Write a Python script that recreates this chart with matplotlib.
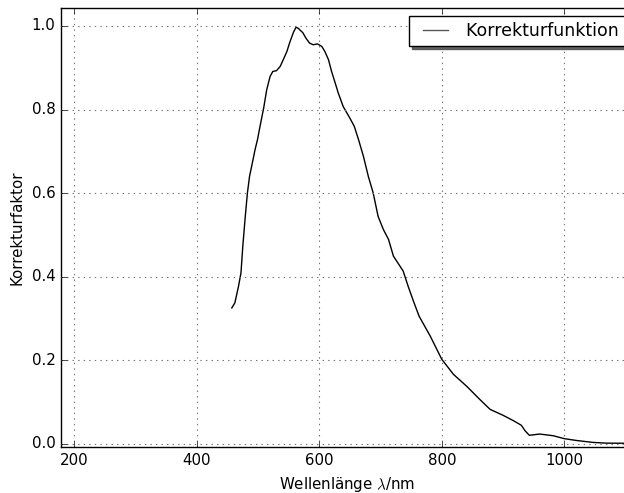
import numpy as np
import matplotlib
matplotlib.use('Agg')
import matplotlib.pyplot as plt
from matplotlib.lines import Line2D
from matplotlib.legend_handler import HandlerLine2D

plt.style.use('classic')

# Korrekturfunktion
wellenlaenge = [457, 462, 468, 472, 475, 479, 482.5, 486, 490, 495, 499,
                503, 509, 514, 519.5, 524, 530, 536, 541, 547, 552, 558,
                562, 566, 568.5, 573, 578, 584, 590, 597, 604, 609, 615,
                620, 626, 631, 639, 650, 657, 664, 672, 680, 688, 696,
                704.5, 713, 721, 729, 737, 745, 754, 763, 781, 800, 819,
                841, 862, 879, 900, 917, 930, 936, 943, 960, 982, 1000,
                1020, 1047, 1069, 1100, 1120]
faktor = [0.325, 0.337, 0.377, 0.409, 0.473, 0.544, 0.600, 0.640, 0.668,
          0.704, 0.728, 0.759, 0.803, 0.847, 0.879, 0.891, 0.893, 0.903,
          0.919, 0.939, 0.962, 0.986, 0.997, 0.994, 0.990, 0.984, 0.971,
          0.959, 0.955, 0.957, 0.951, 0.939, 0.919, 0.891, 0.863, 0.839,
          0.807, 0.779, 0.760, 0.728, 0.688, 0.640, 0.600, 0.544, 0.513,
          0.489, 0.449, 0.431, 0.413, 0.377, 0.340, 0.305, 0.258, 0.202,
          0.166, 0.137, 0.106, 0.082, 0.068, 0.055, 0.044, 0.031, 0.020,
          0.023, 0.019, 0.012, 0.0076, 0.003, 0.0012, 0.001, 0.001]


class ShortLine(HandlerLine2D):
    # legend handle drawn a bit inset inside its box
    def create_artists(self, legend, orig_handle, xdescent, ydescent,
                       width, height, fontsize, trans):
        y = height / 2 - ydescent
        x0 = -xdescent + 0.2 * width
        x1 = -xdescent + 0.88 * width
        line = Line2D([x0, x1], [y, y], color='0.35', lw=1.0)
        line.set_transform(trans)
        return [line]


fig = plt.figure(figsize=(6.24, 4.93), dpi=100, facecolor='white')
ax = fig.add_axes([61/624, 46/493, (634-61)/624, 439/493])

ax.plot(wellenlaenge, faktor, color='k', lw=1.0, label='Korrekturfunktion ')

ax.set_xlim(178, 1114)
ax.set_ylim(-0.008, 1.043)
ax.set_xticks([200, 400, 600, 800, 1000])
ax.set_yticks([0.0, 0.2, 0.4, 0.6, 0.8, 1.0])
ax.tick_params(labelsize=10.8)
ax.grid(True, linestyle=':', color='0.45', linewidth=0.8)

ax.set_xlabel(r'Wellenlänge $\lambda$/nm', fontsize=10.8)
ax.set_ylabel('Korrekturfaktor', fontsize=10.8)

leg = ax.legend(loc='upper left', bbox_to_anchor=(409/624, 1-16/493),
                bbox_transform=fig.transFigure, fontsize=12.5,
                shadow={'color': '0.25', 'alpha': 0.8}, fancybox=False,
                borderpad=0.35, handlelength=2.15, handletextpad=0.8,
                borderaxespad=0, handler_map={Line2D: ShortLine()})

fig.savefig('out.png', dpi=100, facecolor='white')
